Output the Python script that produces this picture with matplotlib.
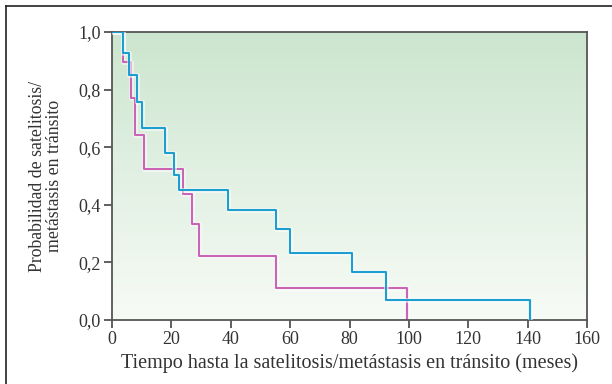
import numpy as np
import matplotlib.pyplot as plt
from matplotlib.lines import Line2D
import matplotlib.patheffects as pe

# --- Curvas de Kaplan-Meier --- #
blue_t = [0, 3.6, 5.8, 8.5, 10.1, 17.8, 20.9, 22.6, 39.1, 55.4, 59.9, 80.8, 92.3, 140.7]
blue_s = [1.0, 0.926, 0.851, 0.758, 0.666, 0.581, 0.503, 0.450, 0.381, 0.316, 0.233, 0.165, 0.069, 0.0]

pink_t = [0, 3.6, 6.5, 7.9, 10.8, 24.0, 26.9, 29.2, 55.4, 99.4]
pink_s = [1.0, 0.897, 0.770, 0.642, 0.524, 0.436, 0.332, 0.223, 0.110, 0.0]

x_ticks = [0, 20, 40, 60, 80, 100, 120, 140, 160]
y_ticks = [0.0, 0.2, 0.4, 0.6, 0.8, 1.0]
y_labels = ["0,0", "0,2", "0,4", "0,6", "0,8", "1,0"]

XLABEL = "Tiempo hasta la satelitosis/metástasis en tránsito (meses)"
YLABEL = "Probabilidad de satelitosis/\nmetástasis en tránsito"

plt.rcParams['font.family'] = ['Liberation Serif', 'DejaVu Serif']
plt.rcParams['font.size'] = 12

fig = plt.figure(figsize=(6.12, 3.84), dpi=100)
ax = fig.add_axes([112/612, 1-320/384, 475/612, 288/384])

# fondo degradado verde
grad = np.linspace(0, 1, 256).reshape(-1, 1)
top = np.array([0.80, 0.90, 0.81])
bot = np.array([0.97, 0.985, 0.965])
img = bot + (top - bot) * grad
ax.imshow(img[:, None, :].repeat(2, axis=1), extent=[0, 160, 0, 1], origin='lower',
          aspect='auto', zorder=0)

halo = [pe.Stroke(linewidth=3.4, foreground='white', alpha=0.6), pe.Normal()]
ax.step(blue_t, blue_s, where='post', color='#1c9fd0', lw=1.5, zorder=3, path_effects=halo)
ax.step(pink_t, pink_s, where='post', color='#c965b4', lw=1.5, zorder=2, path_effects=halo)
# caída final a cero
ax.vlines([blue_t[-1]], 0, blue_s[-2], color='#1c9fd0', lw=1.5, zorder=3)
ax.vlines([pink_t[-1]], 0, pink_s[-2], color='#c965b4', lw=1.5, zorder=2)

ax.set_xlim(0, 160)
ax.set_ylim(0, 1)
ax.set_xticks(x_ticks)
ax.set_yticks(y_ticks)
ax.set_yticklabels(y_labels)
for s in ax.spines.values():
    s.set_color('#555555')
    s.set_linewidth(1.3)
ax.tick_params(direction='out', length=6, width=1.2, color='#444444',
               labelcolor='#333333', labelsize=13, pad=2)
ax.set_xlabel(XLABEL, fontsize=14.5, color='#333333', labelpad=4)
ax.set_ylabel(YLABEL, fontsize=12.8, color='#333333', labelpad=11, linespacing=1.0)

# marco exterior
fig.add_artist(Line2D([6/612, 6/612], [0, 1-6/384], color='#222222', lw=1.2))
fig.add_artist(Line2D([6/612, 1], [1-6/384, 1-6/384], color='#222222', lw=1.2))

fig.savefig("out.png", dpi=100)
